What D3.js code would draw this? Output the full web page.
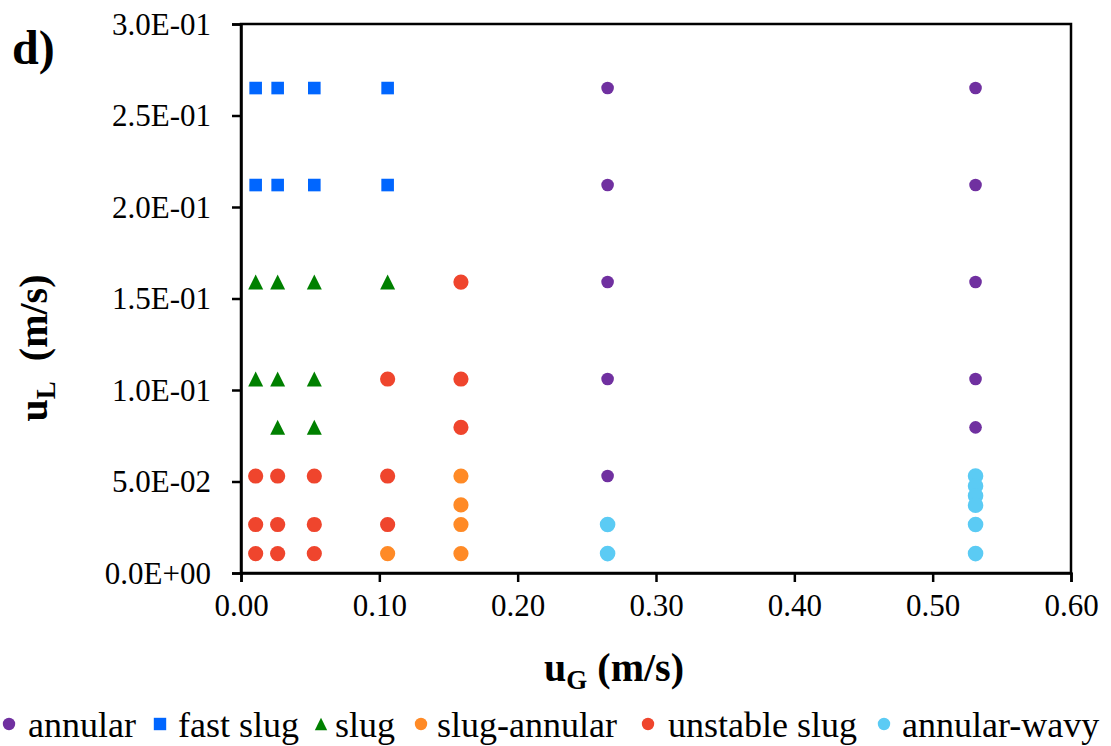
<!DOCTYPE html>
<html>
<head>
<meta charset="utf-8">
<script src="https://cdn.jsdelivr.net/npm/d3@7"></script>
</head>
<body style="margin:0">
<svg id="chart" width="1111" height="746"></svg>
<script>
// Flow-regime map: superficial gas velocity uG vs superficial liquid velocity uL (m/s)
const xTicks = [0, 0.1, 0.2, 0.3, 0.4, 0.5, 0.6];
const yTicks = [0, 0.05, 0.1, 0.15, 0.2, 0.25, 0.3];

const annularX = [0.265, 0.265, 0.265, 0.265, 0.265, 0.531, 0.531, 0.531, 0.531, 0.531];
const annularY = [0.265, 0.212, 0.159, 0.106, 0.053, 0.265, 0.212, 0.159, 0.106, 0.0796];

const fastSlugX = [0.0106, 0.0265, 0.053, 0.106, 0.0106, 0.0265, 0.053, 0.106];
const fastSlugY = [0.265, 0.265, 0.265, 0.265, 0.212, 0.212, 0.212, 0.212];

const slugX = [0.0106, 0.0265, 0.053, 0.106, 0.0106, 0.0265, 0.053, 0.0265, 0.053];
const slugY = [0.159, 0.159, 0.159, 0.159, 0.106, 0.106, 0.106, 0.0796, 0.0796];

const slugAnnularX = [0.106, 0.159, 0.159, 0.159, 0.159];
const slugAnnularY = [0.0106, 0.053, 0.0372, 0.0265, 0.0106];

const unstableX = [0.159, 0.106, 0.159, 0.159, 0.0106, 0.0265, 0.053, 0.106, 0.0106, 0.0265, 0.053, 0.106, 0.0106, 0.0265, 0.053];
const unstableY = [0.159, 0.106, 0.106, 0.0796, 0.053, 0.053, 0.053, 0.053, 0.0265, 0.0265, 0.0265, 0.0265, 0.0106, 0.0106, 0.0106];

const wavyX = [0.265, 0.265, 0.531, 0.531, 0.531, 0.531, 0.531, 0.531];
const wavyY = [0.0265, 0.0106, 0.053, 0.0475, 0.0422, 0.037, 0.0265, 0.0106];

const seriesNames = ["annular", "fast slug", "slug", "slug-annular", "unstable slug", "annular-wavy"];

const series = [
  { name: seriesNames[0], xs: annularX, ys: annularY, shape: "circle", r: 6.3, color: "#7030A0" },
  { name: seriesNames[1], xs: fastSlugX, ys: fastSlugY, shape: "square", r: 6.3, color: "#0066FF" },
  { name: seriesNames[2], xs: slugX, ys: slugY, shape: "triangle", r: 7.5, color: "#008000" },
  { name: seriesNames[3], xs: slugAnnularX, ys: slugAnnularY, shape: "circle", r: 7.6, color: "#FF8A26" },
  { name: seriesNames[4], xs: unstableX, ys: unstableY, shape: "circle", r: 7.6, color: "#EF452D" },
  { name: seriesNames[5], xs: wavyX, ys: wavyY, shape: "circle", r: 7.8, color: "#5BCBF4" }
];

// legend layout: marker centre and label start for each entry
const legendMarkerX = [9, 160, 321, 421, 648, 884];
const legendTextX = [28, 178, 335, 437, 668, 902];

const FONT = "Liberation Serif";
const FONT_CSS = "'Liberation Serif', 'Times New Roman', Times, serif";
const serif = sel => sel.attr("font-family", FONT).style("font-family", FONT_CSS);

const svg = d3.select("#chart");
const plot = { left: 241, right: 1071, top: 24, bottom: 573 };

const x = d3.scaleLinear().domain([0, 0.6]).range([plot.left, plot.right]);
const y = d3.scaleLinear().domain([0, 0.3]).range([plot.bottom, plot.top]);

// frame around the plot area
svg.append("rect")
  .attr("x", plot.left).attr("y", plot.top)
  .attr("width", plot.right - plot.left).attr("height", plot.bottom - plot.top)
  .attr("fill", "none").attr("stroke", "#000").attr("stroke-width", 2.5);

// axes
const xAxis = d3.axisBottom(x).tickValues(xTicks).tickSize(9).tickPadding(8)
  .tickFormat(d3.format(".2f"));
const yFmt = d => d === 0 ? "0.0E+00" : d3.format(".1e")(d).replace(/e([+-])(\d)$/, "E$10$2");
const yAxis = d3.axisLeft(y).tickValues(yTicks).tickSize(9).tickPadding(21).tickFormat(yFmt);

const gx = svg.append("g").attr("transform", `translate(0,${plot.bottom})`).call(xAxis);
const gy = svg.append("g").attr("transform", `translate(${plot.left},0)`).call(yAxis);
[gx, gy].forEach(g => {
  serif(g).attr("font-size", 31);
  g.select(".domain").attr("stroke", "#000").attr("stroke-width", 2.5);
  g.selectAll(".tick line").attr("stroke", "#000").attr("stroke-width", 2.5);
  serif(g.selectAll(".tick text")).attr("fill", "#000").attr("font-size", 31);
});
gx.selectAll(".tick text").attr("dy", "0.85em");
gy.selectAll(".tick text").attr("dy", "0.33em");

// markers
function markerPath(shape, cx, cy, r) {
  if (shape === "square") {
    return `M${cx - r},${cy - r}H${cx + r}V${cy + r}H${cx - r}Z`;
  }
  if (shape === "triangle") {
    const h = r * 2, w = r * 2;
    return `M${cx},${cy - h / 2}L${cx + w / 2},${cy + h / 2}L${cx - w / 2},${cy + h / 2}Z`;
  }
  return `M${cx - r},${cy}A${r},${r} 0 1,0 ${cx + r},${cy}A${r},${r} 0 1,0 ${cx - r},${cy}Z`;
}

series.forEach(s => {
  const pts = s.xs.map((v, i) => [v, s.ys[i]]);
  svg.append("g").selectAll("path").data(pts).join("path")
    .attr("d", d => markerPath(s.shape, x(d[0]), y(d[1]), s.r))
    .attr("fill", s.color);
});

// axis titles
const xt = serif(svg.append("text")).attr("x", 614).attr("y", 681)
  .attr("text-anchor", "middle").attr("font-weight", "bold").attr("font-size", 40);
xt.append("tspan").text("u");
xt.append("tspan").text("G").attr("font-size", 27).attr("dy", 8);
xt.append("tspan").text(" (m/s)").attr("dy", -8);

const yt = serif(svg.append("text")).attr("transform", "translate(47,348) rotate(-90)")
  .attr("text-anchor", "middle").attr("font-weight", "bold").attr("font-size", 40);
yt.append("tspan").text("u");
yt.append("tspan").text("L").attr("font-size", 27).attr("dy", 8);
yt.append("tspan").text("\u00a0 (m/s)").attr("dy", -8);

// panel label
serif(svg.append("text")).attr("x", 12).attr("y", 64)
  .attr("font-weight", "bold").attr("font-size", 48).text("d)");

// legend
series.forEach((s, i) => {
  svg.append("path").attr("d", markerPath(s.shape, legendMarkerX[i], 724, 6.2)).attr("fill", s.color);
  serif(svg.append("text")).attr("x", legendTextX[i]).attr("y", 737)
    .attr("font-size", 36).text(s.name);
});
</script>
</body>
</html>
